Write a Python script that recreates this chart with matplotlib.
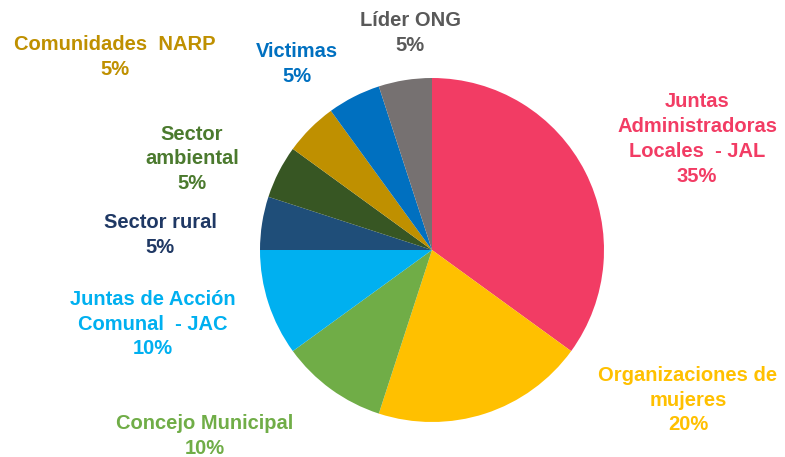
import matplotlib.pyplot as plt

# datos
categorias = ["Juntas\nAdministradoras\nLocales  - JAL", "Organizaciones de\nmujeres",
              "Concejo Municipal", "Juntas de Acción\nComunal  - JAC", "Sector rural",
              "Sector\nambiental", "Comunidades  NARP", "Victimas", "Líder ONG"]
porcentajes = [35, 20, 10, 10, 5, 5, 5, 5, 5]
colores = ["#F23C64", "#FFC000", "#70AD47", "#00B0F0", "#1F4E79",
           "#375623", "#BF9000", "#0070C0", "#767171"]
colores_texto = ["#F23C64", "#FFC000", "#70AD47", "#00B0F0", "#1F3864",
                 "#4B7A2E", "#BF9000", "#0070C0", "#595959"]

# posiciones de etiquetas (pixeles, centro del texto)
pos_etiquetas = [(697, 139), (688, 400), (205, 436), (153, 324), (160, 235),
                 (192, 159), (115, 57), (297, 64), (410, 33)]

W, H = 785, 457
fig = plt.figure(figsize=(W / 100, H / 100), dpi=100)
ax = fig.add_axes([0, 0, 1, 1])

ax.pie(porcentajes, colors=colores, startangle=90, counterclock=False,
       center=(432, H - 250), radius=172, frame=True,
       wedgeprops=dict(linewidth=0))
ax.set_xlim(0, W)
ax.set_ylim(0, H)
ax.set_aspect("equal")
ax.axis("off")

for cat, p, c, (x, y) in zip(categorias, porcentajes, colores_texto, pos_etiquetas):
    ax.text(x, H - y, f"{cat}\n{p}%", ha="center", va="center", color=c,
            fontsize=14.5, fontweight="bold", family=["Liberation Sans", "DejaVu Sans"],
            linespacing=1.38)

fig.savefig("out.png", dpi=100)
